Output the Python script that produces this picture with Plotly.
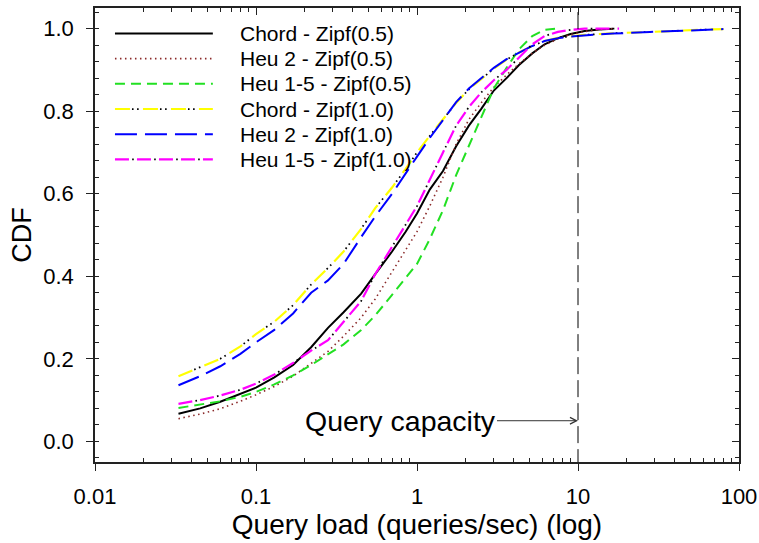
import math
import plotly.graph_objects as go

# ---------------- data ----------------
grid = [0.033, 0.045, 0.06, 0.08, 0.1, 0.13, 0.17, 0.22, 0.28, 0.35, 0.45, 0.55,
        0.7, 0.85, 1.0, 1.2, 1.45, 1.75, 2.1, 2.5, 3.0, 3.6, 4.3, 5.2, 6.2, 7.5,
        9, 11, 13.5, 16.5, 20, 28, 40, 55, 80]

chord_05 = [0.067, 0.080, 0.096, 0.115, 0.130, 0.155, 0.185, 0.228, 0.275, 0.313, 0.358, 0.405,
            0.460, 0.508, 0.552, 0.610, 0.655, 0.715, 0.765, 0.805, 0.850, 0.880, 0.912, 0.940,
            0.962, 0.977, 0.987, 0.994, 0.998, 1.000]
heu2_05 = [0.055, 0.066, 0.079, 0.097, 0.113, 0.133, 0.158, 0.190, 0.218, 0.255, 0.300, 0.345,
           0.410, 0.465, 0.508, 0.570, 0.640, 0.720, 0.780, 0.820, 0.858, 0.888, 0.915, 0.940,
           0.960, 0.975, 0.986, 0.993, 0.998, 1.000]
heu15_05_x = grid[:25] + [7.2]
heu15_05 = [0.081, 0.089, 0.097, 0.108, 0.120, 0.138, 0.160, 0.185, 0.210, 0.235, 0.270, 0.305,
            0.355, 0.395, 0.430, 0.490, 0.560, 0.645, 0.715, 0.785, 0.855, 0.905, 0.950, 0.982,
            0.997, 1.000]
chord_10 = [0.158, 0.180, 0.200, 0.230, 0.260, 0.290, 0.330, 0.380, 0.420, 0.460, 0.515, 0.565,
            0.615, 0.660, 0.700, 0.740, 0.780, 0.820, 0.853, 0.878, 0.903, 0.925, 0.942, 0.958,
            0.970, 0.978, 0.982, 0.985, 0.987, 0.989, 0.990, 0.992, 0.995, 0.997, 0.999]
heu2_10 = [0.136, 0.158, 0.182, 0.212, 0.240, 0.270, 0.310, 0.360, 0.390, 0.430, 0.495, 0.545,
           0.600, 0.650, 0.690, 0.735, 0.780, 0.822, 0.855, 0.880, 0.905, 0.926, 0.942, 0.958,
           0.970, 0.977, 0.981, 0.984, 0.986, 0.988, 0.990, 0.992, 0.994, 0.996, 0.999]
heu15_10_x = grid[:30] + [18]
heu15_10 = [0.091, 0.100, 0.111, 0.125, 0.140, 0.162, 0.190, 0.220, 0.245, 0.290, 0.340, 0.405,
            0.470, 0.525, 0.570, 0.635, 0.700, 0.765, 0.810, 0.845, 0.875, 0.900, 0.930, 0.962,
            0.982, 0.992, 0.997, 1.000, 1.000, 1.000, 1.000]

series_names = ["Chord - Zipf(0.5)", "Heu 2 - Zipf(0.5)", "Heu 1-5 - Zipf(0.5)",
                "Chord - Zipf(1.0)", "Heu 2 - Zipf(1.0)", "Heu 1-5 - Zipf(1.0)"]
series_x = [grid[:len(chord_05)], grid[:len(heu2_05)], heu15_05_x,
            grid, grid, heu15_10_x]
series_y = [chord_05, heu2_05, heu15_05, chord_10, heu2_10, heu15_10]

query_capacity = 10
x_tickvals = [0.01, 0.1, 1, 10, 100]
x_ticktext = ["0.01", "0.1", "1", "10", "100"]
y_tickvals = [0.0, 0.2, 0.4, 0.6, 0.8, 1.0]
y_ticktext = ["0.0", "0.2", "0.4", "0.6", "0.8", "1.0"]

# ---------------- styles ----------------
styles = [
    dict(color="black", width=2.0, dash="solid", dots=None),
    dict(color="#8b2a2a", width=1.6, dash="1.5px,3.5px", dots=None),
    dict(color="#22e022", width=2.0, dash="10px,6px", dots=None),
    dict(color="#ffff00", width=2.2, dash="15px,13px", dots="0px,17px,1.6px,3.5px,1.6px,4.3px"),
    dict(color="#0000ff", width=2.0, dash="22px,8px", dots=None),
    dict(color="#ff00ff", width=2.2, dash="14px,8px", dots="0px,17.2px,1.6px,3.2px"),
]

FONT = "Liberation Sans, Arial, sans-serif"
fig = go.Figure()

for name, xs, ys, st in zip(series_names, series_x, series_y, styles):
    fig.add_trace(go.Scatter(x=xs, y=ys, mode="lines", name=name, showlegend=False,
                             line=dict(color=st["color"], width=st["width"], dash=st["dash"])))
    if st["dots"]:
        fig.add_trace(go.Scatter(x=xs, y=ys, mode="lines", showlegend=False, hoverinfo="skip",
                                 line=dict(color="black", width=st["width"] * 0.8, dash=st["dots"])))

# capacity line (on mirrored axes so they are drawn)
fig.add_trace(go.Scatter(x=[query_capacity, query_capacity], y=[-0.06, 1.06], mode="lines",
                         xaxis="x2", yaxis="y2", showlegend=False, hoverinfo="skip",
                         line=dict(color="black", width=1, dash="17px,6px")))

# manual legend
shapes = []
annotations = []
leg_x0, leg_x1, leg_tx = 0.031, 0.183, 0.222
leg_y0, leg_dy = 0.944, 0.0555
for i, (name, st) in enumerate(zip(series_names, styles)):
    yy = leg_y0 - i * leg_dy
    shapes.append(dict(type="line", xref="paper", yref="paper", x0=leg_x0, x1=leg_x1, y0=yy, y1=yy,
                       line=dict(color=st["color"], width=st["width"], dash=st["dash"])))
    if st["dots"]:
        shapes.append(dict(type="line", xref="paper", yref="paper", x0=leg_x0, x1=leg_x1, y0=yy, y1=yy,
                           line=dict(color="black", width=st["width"] * 0.8, dash=st["dots"])))
    annotations.append(dict(x=leg_tx, y=yy, xref="paper", yref="paper", text=name, showarrow=False,
                            xanchor="left", yanchor="middle", font=dict(family=FONT, size=21, color="black")))

annotations.append(dict(x=math.log10(query_capacity), y=0.05, xref="x", yref="y",
                        text="Query capacity", showarrow=True, arrowhead=5, arrowsize=1.3,
                        arrowwidth=1, arrowcolor="#333", ax=-178, ay=0,
                        font=dict(family=FONT, size=28.5, color="black")))

minor_x = [k * 10 ** e for e in range(-2, 2) for k in range(2, 10)]

fig.update_layout(
    width=759, height=543,
    margin=dict(l=95, r=20, t=8, b=81, autoexpand=False),
    paper_bgcolor="white", plot_bgcolor="white",
    font=dict(family=FONT, color="black"),
    showlegend=False,
    shapes=shapes, annotations=annotations,
    xaxis=dict(type="log", range=[-2, 2], tickvals=x_tickvals, ticktext=x_ticktext, automargin=False,
               ticks="outside", ticklen=7, tickwidth=1.2, tickcolor="#222",
               showline=True, linecolor="#222", linewidth=1.5, showgrid=False, zeroline=False,
               tickfont=dict(size=22), ticklabelstandoff=7,
               minor=dict(tickvals=minor_x, ticks="inside", ticklen=4, tickcolor="#222", showgrid=False),
               title=dict(text="Query load (queries/sec) (log)", font=dict(size=28), standoff=4)),
    yaxis=dict(range=[-0.05, 1.05], tickvals=y_tickvals, ticktext=y_ticktext, automargin=False,
               ticks="outside", ticklen=7, tickwidth=1.2, tickcolor="#222",
               showline=True, linecolor="#222", linewidth=1.5, showgrid=False, zeroline=False,
               tickfont=dict(size=22), ticklabelstandoff=8,
               minor=dict(dtick=0.04, tick0=0, ticks="inside", ticklen=4, tickcolor="#222", showgrid=False),
               title=dict(text="CDF", font=dict(size=27), standoff=4)),
    xaxis2=dict(type="log", range=[-2, 2], overlaying="x", side="top", anchor="y2", automargin=False,
                tickvals=x_tickvals, showticklabels=False, ticks="inside", ticklen=7,
                tickcolor="#222", showline=True, linecolor="#222", linewidth=1.5,
                showgrid=False, zeroline=False,
                minor=dict(tickvals=minor_x, ticks="inside", ticklen=4, tickcolor="#222", showgrid=False)),
    yaxis2=dict(range=[-0.05, 1.05], overlaying="y", side="right", anchor="x2", automargin=False,
                tickvals=y_tickvals, showticklabels=False, ticks="inside", ticklen=7,
                tickcolor="#222", showline=True, linecolor="#222", linewidth=1.5,
                showgrid=False, zeroline=False,
                minor=dict(dtick=0.04, tick0=0, ticks="inside", ticklen=4, tickcolor="#222", showgrid=False)),
)

fig.write_html("out.html")
